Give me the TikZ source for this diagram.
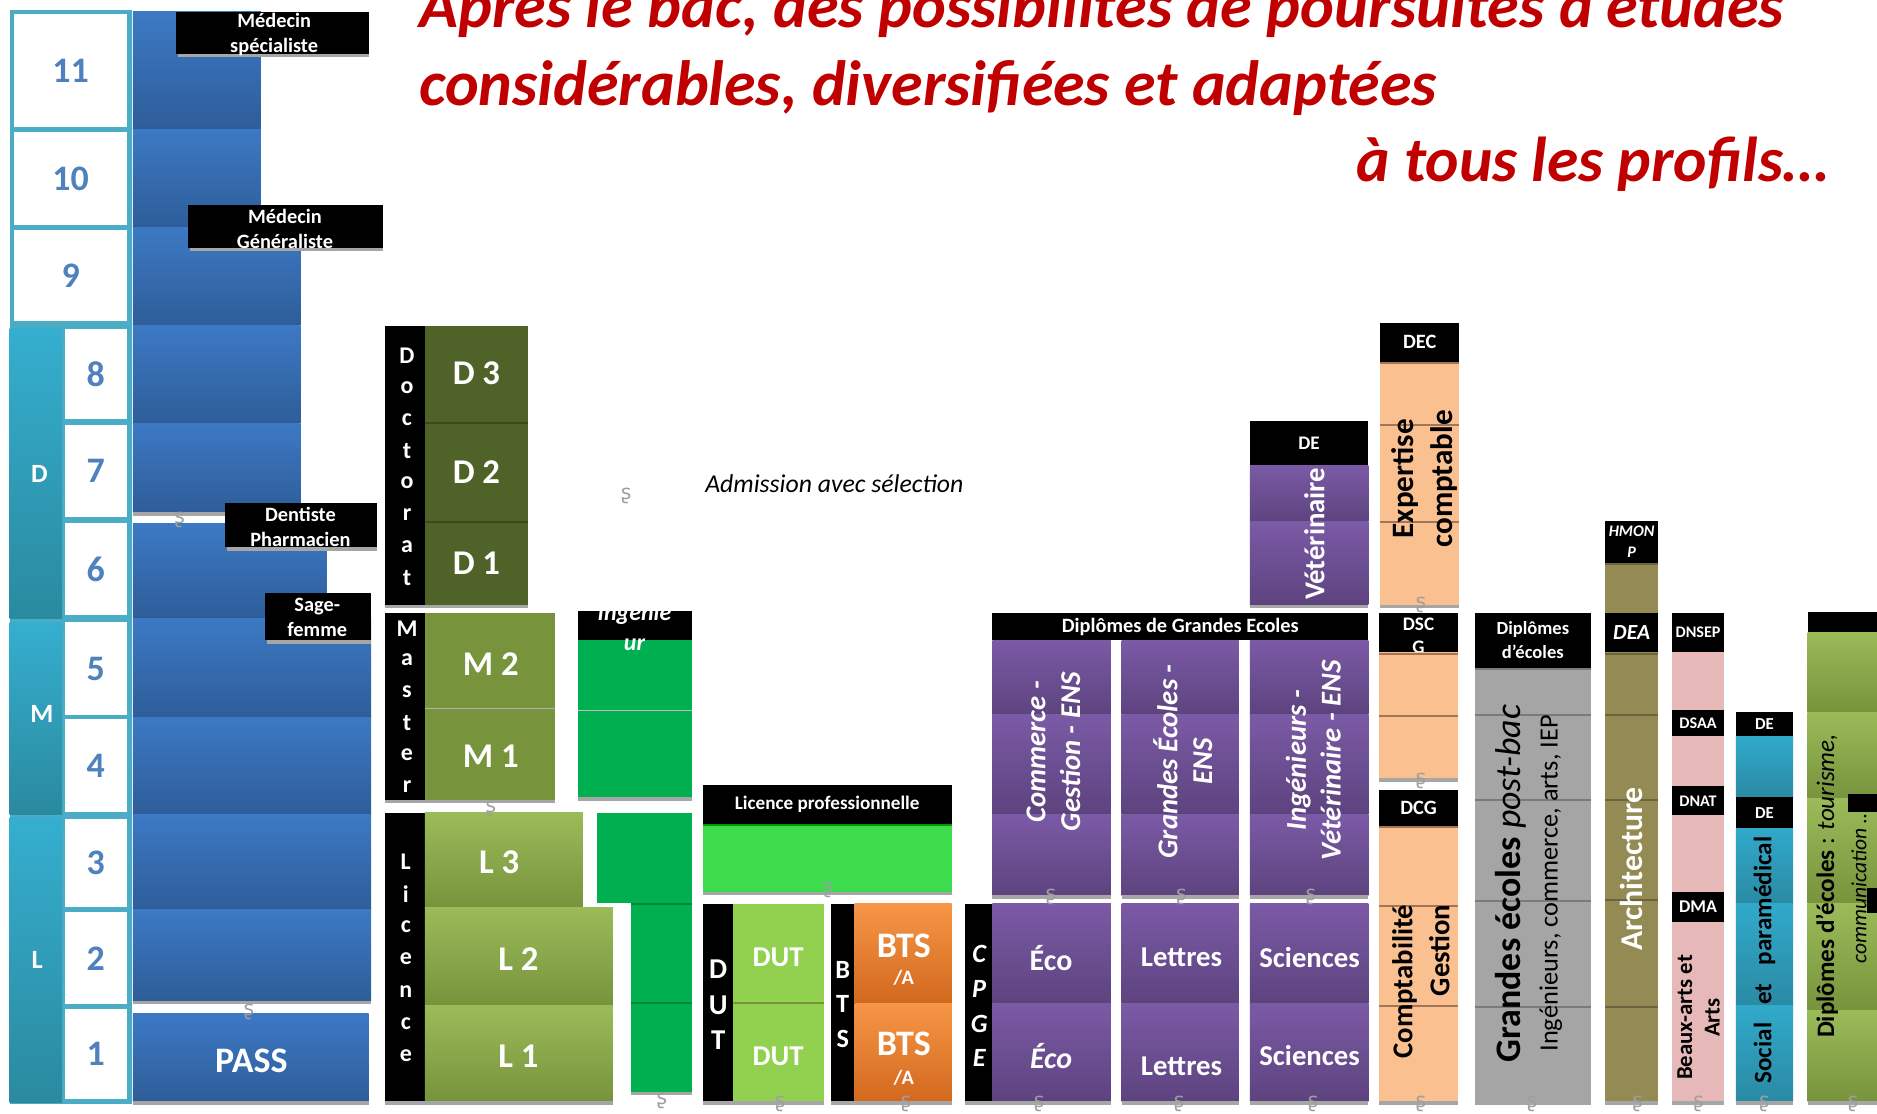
\documentclass[tikz,border=0pt]{standalone}
\usepackage{fontspec}
\setmainfont{Carlito}
\newfontfamily\djv{DejaVu Sans}
\definecolor{tealF}{HTML}{4BACC6}
\definecolor{tealT}{HTML}{35AECF}
\definecolor{tealB}{HTML}{2A8A9F}
\definecolor{numblue}{HTML}{4F81BD}
\definecolor{blueT}{HTML}{3C79C4}
\definecolor{blueB}{HTML}{2E5D99}
\definecolor{oliveD}{HTML}{4F6228}
\definecolor{oliveDk}{HTML}{3A4A1C}
\definecolor{oliveM}{HTML}{77933C}
\definecolor{greenLT}{HTML}{9BBB59}
\definecolor{greenLB}{HTML}{77933C}
\definecolor{ingG}{HTML}{00B050}
\definecolor{ingGd}{HTML}{00863C}
\definecolor{lpG}{HTML}{3CDC4C}
\definecolor{dutG}{HTML}{92D050}
\definecolor{btsT}{HTML}{F79646}
\definecolor{btsB}{HTML}{D2691E}
\definecolor{purT}{HTML}{7B5AA6}
\definecolor{purB}{HTML}{5D437E}
\definecolor{peach}{HTML}{FAC090}
\definecolor{peachL}{HTML}{A27558}
\definecolor{grayC}{HTML}{A5A5A5}
\definecolor{grayL}{HTML}{7A7A7A}
\definecolor{khaki}{HTML}{948A54}
\definecolor{khakiL}{HTML}{6B6440}
\definecolor{pinkC}{HTML}{E6B9B8}
\definecolor{socT}{HTML}{31A9CA}
\definecolor{socB}{HTML}{2A8AA4}
\definecolor{titred}{HTML}{C00000}
\definecolor{shadowc}{HTML}{A6A6A6}
\newcommand{\fs}[2]{\fontsize{#1}{#2}\selectfont}
\newcommand{\blkbox}[6]{\node[blk,#6,minimum width={(#4-#2)*1pt},minimum height={(#5-#3)*1pt}] (#1) at ({(#2+#4)/2},{(#3+#5)/2}) {};}
\newcommand{\shb}[3]{\fill[shadowc] (#1,#3) rectangle (#2,{#3+3});}
\newcommand{\divl}[4]{\draw[line width=1.6pt,#4] (#1,#3) -- (#2,#3);}
\newcommand{\vstack}[6]{\foreach \l [count=\i] in {#5} {\node[vlet,#6] (#1\i) at (#2,{#3+(\i-1)*#4}) {\l};}}
\tikzset{
 blk/.style={rectangle,inner sep=0pt,outer sep=0pt,draw=none},
 hdr/.style={blk,fill=black},
 wtxt/.style={inner sep=0pt,text=white,align=center},
 ktxt/.style={inner sep=0pt,text=black,align=center},
 num/.style={inner sep=0pt,text=numblue,font=\fs{30}{30}\bfseries},
 vlet/.style={inner sep=0pt,text=white},
 sig/.style={inner sep=0pt,text=gray!75,font=\djv\fs{17}{17}},
 bluecol/.style={top color=blueT,bottom color=blueB},
 tealbar/.style={top color=tealT,bottom color=tealB},
 lgreen/.style={top color=greenLT,bottom color=greenLB},
 pur/.style={top color=purT,bottom color=purB},
 bts/.style={top color=btsT,bottom color=btsB},
 soc/.style={top color=socT,bottom color=socB},
 title/.style={inner sep=0pt,anchor=base west,text=titred}
}
\begin{document}
\begin{tikzpicture}[x=1pt,y=-1pt]
\useasboundingbox[fill=white] (0,0) rectangle (1568,930);
% ---------------- title
\node[title] (t1) at (350,23) {\resizebox{1140pt}{!}{\fs{52}{60}\bfseries\itshape Après le bac, des possibilités de poursuites d’études}};
\node[title] (t2) at (350,88) {\resizebox{850pt}{!}{\fs{52}{60}\bfseries\itshape considérables, diversifiées et adaptées}};
\node[title] (t3) at (1133,152) {\resizebox{394pt}{!}{\fs{52}{60}\bfseries\itshape à tous les profils…}};
% ---------------- left scale
\blkbox{frA}{8}{8}{110}{272}{fill=tealF}
\blkbox{c11}{12}{12}{106}{106}{fill=white}
\blkbox{c10}{12}{110}{106}{188}{fill=white}
\blkbox{c9}{12}{192}{106}{268}{fill=white}
\blkbox{frB}{8}{272}{110}{922}{fill=tealF}
\blkbox{barD}{8}{274}{52}{517}{tealbar}
\blkbox{barM}{8}{520}{52}{680}{tealbar}
\blkbox{barL}{8}{683}{52}{921}{tealbar}
\blkbox{c8}{54}{275}{106}{350}{fill=white}
\blkbox{c7}{54}{355}{106}{432}{fill=white}
\blkbox{c6}{54}{437}{106}{514}{fill=white}
\blkbox{c5}{54}{520}{106}{597}{fill=white}
\blkbox{c4}{54}{601}{106}{678}{fill=white}
\blkbox{c3}{54}{684}{106}{758}{fill=white}
\blkbox{c2}{54}{762}{106}{839}{fill=white}
\blkbox{c1}{54}{843}{106}{918}{fill=white}
\foreach \n in {1,...,11} {\node[num] (n\n) at (c\n) {\n};}
\node[wtxt,font=\fs{22}{22}\bfseries] (lD) at (33,396) {D};
\node[wtxt,font=\fs{22}{22}\bfseries] (lM) at (35,596) {M};
\node[wtxt,font=\fs{22}{22}\bfseries] (lL) at (31,802) {L};
% ---------------- medicine column
\blkbox{b11}{111}{10}{218}{108}{bluecol}
\blkbox{b10}{111}{108}{218}{190}{bluecol}
\blkbox{b9}{111}{190}{251}{272}{bluecol}
\blkbox{b8}{111}{272}{251}{354}{bluecol}
\blkbox{b7}{111}{354}{251}{428}{bluecol}
\shb{111}{251}{428}
\blkbox{b6}{111}{437}{273}{517}{bluecol}
\blkbox{b5}{111}{517}{310}{599}{bluecol}
\blkbox{b4}{111}{599}{310}{680}{bluecol}
\blkbox{b3}{111}{680}{310}{760}{bluecol}
\blkbox{b2}{111}{760}{310}{836}{bluecol}
\shb{111}{310}{836}
\blkbox{pass}{111}{847}{308}{920}{bluecol}
\shb{111}{308}{920}
\node[wtxt,font=\fs{30}{30}\bfseries] (tpass) at (210,886) {PASS};
\blkbox{lms}{147}{10}{308}{45}{hdr}\shb{149}{308}{45}
\node[wtxt,font=\fs{17}{21}\bfseries] (tms) at (229,29) {Médecin\\spécialiste};
\blkbox{lmg}{157}{171}{320}{207}{hdr}\shb{159}{320}{207}
\node[wtxt,font=\fs{17}{21}\bfseries] (tmg) at (238,191) {Médecin\\Généraliste};
\blkbox{ldp}{188}{420}{315}{457}{hdr}\shb{190}{315}{457}
\node[wtxt,font=\fs{17}{21}\bfseries] (tdp) at (251,440) {Dentiste\\Pharmacien};
\blkbox{lsf}{221}{495}{310}{535}{hdr}\shb{223}{310}{535}
\node[wtxt,font=\fs{17}{21}\bfseries] (tsf) at (265,516) {Sage-\\femme};
% ---------------- Doctorat / Master / Licence
\blkbox{docbar}{322}{272}{355}{505}{hdr}
\blkbox{d3}{355}{272}{441}{352}{fill=oliveD}
\blkbox{d2}{355}{352}{441}{436}{fill=oliveD}
\blkbox{d1}{355}{436}{441}{505}{fill=oliveD}
\divl{355}{441}{353}{oliveDk}\divl{355}{441}{436}{oliveDk}
\shb{322}{441}{505}
\vstack{doc}{340}{297}{26.6}{D,o,c,t,o,r,a,t}{font=\fs{20}{20}\bfseries}
\node[wtxt,font=\fs{29}{29}\bfseries] (td3) at (d3) {D 3};
\node[wtxt,font=\fs{29}{29}\bfseries] (td2) at (d2) {D 2};
\node[wtxt,font=\fs{29}{29}\bfseries] (td1) at (d1) {D 1};
\blkbox{masbar}{322}{512}{355}{668}{hdr}
\blkbox{m2}{355}{512}{464}{592}{fill=oliveM}
\blkbox{m1}{355}{592}{464}{668}{fill=oliveM}
\draw[line width=0.6pt,gray!60] (355,592) -- (464,592);
\shb{322}{464}{668}
\vstack{mas}{340}{525}{26.4}{M,a,s,t,e,r}{font=\fs{20}{20}\bfseries}
\node[wtxt,font=\fs{29}{29}\bfseries] (tm2) at (410,555) {M 2};
\node[wtxt,font=\fs{29}{29}\bfseries] (tm1) at (410,632) {M 1};
\blkbox{licbar}{322}{679}{355}{920}{hdr}
\blkbox{l3}{355}{679}{487}{758}{lgreen}
\blkbox{l2}{355}{758}{512}{840}{lgreen}
\blkbox{l1}{355}{840}{512}{920}{lgreen}
\shb{322}{512}{920}
\vstack{lic}{339}{720}{27}{L,i,c,e,n,c,e}{font=\fs{20}{20}\bfseries}
\node[wtxt,font=\fs{29}{29}\bfseries] (tl3) at (417,720) {L 3};
\node[wtxt,font=\fs{29}{29}\bfseries] (tl2) at (433,801) {L 2};
\node[wtxt,font=\fs{29}{29}\bfseries] (tl1) at (433,882) {L 1};
% ---------------- Ingenieur
\blkbox{ingh}{483}{510}{578}{535}{hdr}
\blkbox{ing1}{483}{535}{578}{666}{fill=ingG}
\draw[line width=0.6pt,gray!50] (483,593) -- (578,593);
\shb{483}{578}{666}
\begin{scope}
\clip (483,510) rectangle (578,560);
\node[wtxt,anchor=base,font=\fs{20}{20}\bfseries\itshape] (tinga) at (530,518) {Ingénie};
\node[wtxt,anchor=base,font=\fs{20}{20}\bfseries\itshape] (tingb) at (530,543) {ur};
\end{scope}
\blkbox{ing2}{499}{679}{578}{754}{fill=ingG}
\blkbox{ing3}{527}{754}{578}{912}{fill=ingG}
\divl{527}{578}{755}{ingGd}\divl{527}{578}{838}{ingGd}
\shb{527}{578}{912}
% ---------------- Licence pro, DUT, BTS
\blkbox{lph}{587}{656}{795}{688}{hdr}
\node[wtxt,font=\fs{16}{16}\bfseries] (tlp) at (lph) {Licence professionnelle};
\blkbox{lpg}{587}{688}{795}{745}{fill=lpG}
\draw[line width=1.5pt,green!60!black] (587,689) -- (795,689);
\shb{587}{795}{745}
\blkbox{dutbar}{587}{755}{612}{920}{hdr}
\blkbox{dut2}{612}{755}{688}{838}{fill=dutG}
\blkbox{dut1}{612}{838}{688}{920}{fill=dutG}
\divl{612}{688}{838}{oliveM}
\shb{587}{688}{920}
\vstack{dutl}{600}{810}{29.5}{D,U,T}{font=\fs{24}{24}\bfseries}
\node[wtxt,font=\fs{24}{24}\bfseries] (tdut2) at (650,800) {DUT};
\node[wtxt,font=\fs{24}{24}\bfseries] (tdut1) at (650,882) {DUT};
\blkbox{btsbar}{694}{755}{714}{920}{hdr}
\blkbox{bts2}{714}{755}{795}{838}{bts}
\blkbox{bts1}{714}{838}{795}{920}{bts}
\shb{694}{795}{920}
\vstack{btsl}{704}{810}{29}{B,T,S}{font=\fs{22}{22}\bfseries}
\node[wtxt,font=\fs{30}{30}\bfseries] (tbts2) at (755,790) {BTS};
\node[wtxt,font=\fs{17}{17}\bfseries] (tbta2) at (755,817) {/A};
\node[wtxt,font=\fs{30}{30}\bfseries] (tbts1) at (755,872) {BTS};
\node[wtxt,font=\fs{17}{17}\bfseries] (tbta1) at (755,900) {/A};
% ---------------- CPGE
\blkbox{cpbar}{806}{755}{829}{920}{hdr}
\vstack{cpl}{818}{797}{29}{C,P,G,E}{font=\fs{22}{22}\bfseries\itshape}
\blkbox{eco2}{829}{755}{928}{838}{pur}
\blkbox{eco1}{829}{838}{928}{920}{pur}
\blkbox{let2}{937}{755}{1035}{838}{pur}
\blkbox{let1}{937}{838}{1035}{920}{pur}
\blkbox{sci2}{1044}{755}{1143}{838}{pur}
\blkbox{sci1}{1044}{838}{1143}{920}{pur}
\shb{806}{928}{920}\shb{937}{1035}{920}\shb{1044}{1143}{920}
\node[wtxt,font=\fs{25}{25}\bfseries] (teco2) at (878,800) {Éco};
\node[wtxt,font=\fs{25}{25}\bfseries\itshape] (teco1) at (878,882) {Éco};
\node[wtxt,font=\fs{24}{24}\bfseries] (tlet2) at (987,800) {Lettres};
\node[wtxt,font=\fs{24}{24}\bfseries] (tlet1) at (987,891) {Lettres};
\node[wtxt,font=\fs{24}{24}\bfseries] (tsci2) at (1094,800) {Sciences};
\node[wtxt,font=\fs{24}{24}\bfseries] (tsci1) at (1094,882) {Sciences};
% ---------------- Grandes ecoles
\blkbox{geh}{829}{512}{1143}{535}{hdr}
\node[wtxt,font=\fs{17}{17}\bfseries] (tdge) at (geh) {Diplômes de Grandes Ecoles};
\foreach \nm/\xa/\xb in {gc/829/928,gg/937/1035,gi/1044/1143} {
  \blkbox{\nm3}{\xa}{535}{\xb}{597}{pur}
  \blkbox{\nm2}{\xa}{597}{\xb}{680}{pur}
  \blkbox{\nm1}{\xa}{680}{\xb}{748}{pur}
  \shb{\xa}{\xb}{748}
}
\node[wtxt,rotate=90,font=\fs{24}{29}\bfseries\itshape] (tcom) at (880,628) {Commerce -\\Gestion - ENS};
\node[wtxt,rotate=90,font=\fs{24}{29}\bfseries\itshape] (tgre) at (988,636) {Grandes Écoles -\\ENS};
\node[wtxt,rotate=90,font=\fs{24}{29}\bfseries\itshape] (tinv) at (1097,635) {Ingénieurs -\\Vétérinaire - ENS};
\blkbox{veth}{1044}{352}{1143}{389}{hdr}
\node[wtxt,font=\fs{16}{16}\bfseries] (tdev) at (veth) {DE};
\blkbox{vet2}{1044}{389}{1143}{436}{pur}
\blkbox{vet1}{1044}{436}{1143}{505}{pur}
\shb{1044}{1143}{505}
\node[wtxt,rotate=90,font=\fs{24}{24}\bfseries] (tvet) at (1098,446) {Vétérinaire};
% ---------------- Expertise comptable
\blkbox{dech}{1153}{270}{1219}{302}{hdr}
\node[wtxt,font=\fs{17}{17}\bfseries] (tdec) at (dech) {DEC};
\blkbox{exp}{1153}{302}{1219}{505}{fill=peach}
\divl{1153}{1219}{303}{peachL}\divl{1153}{1219}{355}{peachL}\divl{1153}{1219}{436}{peachL}
\shb{1153}{1219}{505}
\node[ktxt,rotate=90,font=\fs{26}{32}\bfseries] (texp) at (1190,400) {Expertise\\comptable};
\blkbox{dscgh}{1152}{512}{1218}{545}{hdr}
\node[wtxt,font=\fs{16}{19}\bfseries] (tdscg) at (1185,531) {DSC\\G};
\blkbox{dscg}{1152}{545}{1218}{650}{fill=peach}
\divl{1152}{1218}{546}{peachL}\divl{1152}{1218}{598}{peachL}
\shb{1152}{1218}{650}
\blkbox{dcgh}{1152}{660}{1218}{690}{hdr}
\node[wtxt,font=\fs{17}{17}\bfseries] (tdcg) at (dcgh) {DCG};
\blkbox{dcg}{1152}{690}{1218}{920}{fill=peach}
\divl{1152}{1218}{691}{peachL}\divl{1152}{1218}{757}{peachL}\divl{1152}{1218}{840}{peachL}
\shb{1152}{1218}{920}
\node[ktxt,rotate=90,align=right,font=\fs{24}{31}\bfseries] (tcg) at (1187,820) {Comptabilité\\Gestion};
% ---------------- Diplomes d'ecoles (gray)
\blkbox{diph}{1232}{512}{1329}{558}{hdr}
\node[wtxt,font=\fs{15.5}{20}\bfseries] (tdip) at (diph) {Diplômes\\d’écoles};
\blkbox{dipg}{1232}{558}{1329}{920}{fill=grayC}
\foreach \yy in {559,597,668,753,841} {\divl{1232}{1329}{\yy}{grayL}}
\shb{1232}{1329}{920}
\node[ktxt,rotate=90,font=\fs{22}{31}] (tgep) at (1277,738) {{\fs{30}{30}\bfseries Grandes écoles \mdseries\itshape post-bac}\\Ingénieurs, commerce, arts, IEP};
% ---------------- Architecture
\blkbox{hmh}{1341}{435}{1385}{470}{hdr}
\node[wtxt,font=\fs{13.5}{17}\bfseries\itshape] (thm) at (hmh) {HMON\\P};
\blkbox{hmk}{1341}{470}{1385}{512}{fill=khaki}
\divl{1341}{1385}{471}{khakiL}
\blkbox{deah}{1341}{512}{1385}{545}{hdr}
\node[wtxt,font=\fs{18}{18}\bfseries\itshape] (tdea) at (deah) {DEA};
\blkbox{arch}{1341}{545}{1385}{920}{fill=khaki}
\foreach \yy in {546,597,668,752,841} {\divl{1341}{1385}{\yy}{khakiL}}
\shb{1341}{1385}{920}
\node[wtxt,rotate=90,font=\fs{26.5}{26.5}\bfseries] (tarch) at (1363,726) {Architecture};
% ---------------- Beaux-arts
\blkbox{dnseph}{1397}{512}{1440}{545}{hdr}
\node[wtxt,font=\fs{13.5}{13.5}\bfseries] (tdnsep) at (dnseph) {DNSEP};
\blkbox{pk4}{1397}{545}{1440}{593}{fill=pinkC}
\blkbox{dsaah}{1397}{593}{1440}{615}{hdr}
\node[wtxt,font=\fs{13.5}{13.5}\bfseries] (tdsaa) at (dsaah) {DSAA};
\blkbox{pk3}{1397}{615}{1440}{657}{fill=pinkC}
\blkbox{dnath}{1397}{657}{1440}{681}{hdr}
\node[wtxt,font=\fs{13.5}{13.5}\bfseries] (tdnat) at (dnath) {DNAT};
\blkbox{pk2}{1397}{681}{1440}{745}{fill=pinkC}
\blkbox{dmah}{1397}{745}{1440}{770}{hdr}
\node[wtxt,font=\fs{15}{15}\bfseries] (tdma) at (dmah) {DMA};
\blkbox{pk1}{1397}{770}{1440}{920}{fill=pinkC}
\shb{1397}{1440}{920}
\node[ktxt,rotate=90,font=\fs{19}{23}\bfseries] (tba) at (1419,850) {Beaux-arts et\\Arts};
% ---------------- Social et paramedical
\blkbox{deh2}{1450}{595}{1498}{615}{hdr}
\node[wtxt,font=\fs{14}{14}\bfseries] (tde2) at (deh2) {DE};
\blkbox{so4}{1450}{615}{1498}{666}{soc}
\blkbox{deh1}{1450}{666}{1498}{692}{hdr}
\node[wtxt,font=\fs{14}{14}\bfseries] (tde1) at (deh1) {DE};
\blkbox{so3}{1450}{692}{1498}{755}{soc}
\blkbox{so2}{1450}{755}{1498}{840}{soc}
\blkbox{so1}{1450}{840}{1498}{920}{soc}
\shb{1450}{1498}{920}
\node[ktxt,rotate=90,font=\fs{21}{21}\bfseries] (tsoc) at (1474,802) {Social\hspace{0.5em} et\hspace{0.5em} paramédical};
% ---------------- Diplomes d'ecoles (green)
\blkbox{gdh}{1510}{511}{1568}{528}{hdr}
\blkbox{gd5}{1510}{528}{1568}{595}{lgreen}
\blkbox{gd4}{1510}{595}{1568}{667}{lgreen}
\blkbox{gd3}{1510}{667}{1568}{755}{lgreen}
\blkbox{gd2}{1510}{755}{1568}{844}{lgreen}
\blkbox{gd1}{1510}{844}{1568}{920}{lgreen}
\shb{1510}{1568}{920}
\blkbox{gdb1}{1544}{663}{1568}{678}{hdr}
\blkbox{gdb2}{1560}{742}{1568}{763}{hdr}
\node[ktxt,rotate=90,font=\fs{21}{27}] (tdeg) at (1538,740) {\textbf{Diplômes d’écoles} : \textit{tourisme,}\\{\fs{18}{27}\itshape communication …}};
% ---------------- misc text
\node[ktxt,font=\fs{21.5}{21.5}\itshape] (tadm) at (697,404) {Admission avec sélection};
\foreach \k/\sx/\sy in {1/150/434,2/208/845,3/523/414,4/410/676,5/553/920,6/692/743,7/652/922,8/757/922,9/878/749,10/987/749,11/1095/749,12/868/922,13/985/922,14/1097/922,15/1187/505,16/1187/652,17/1187/922,18/1280/922,19/1368/922,20/1419/922,21/1474/922,22/1548/922}
  {\node[sig] (s\k) at (\sx,\sy) {ʂ};}
\end{tikzpicture}
\end{document}
